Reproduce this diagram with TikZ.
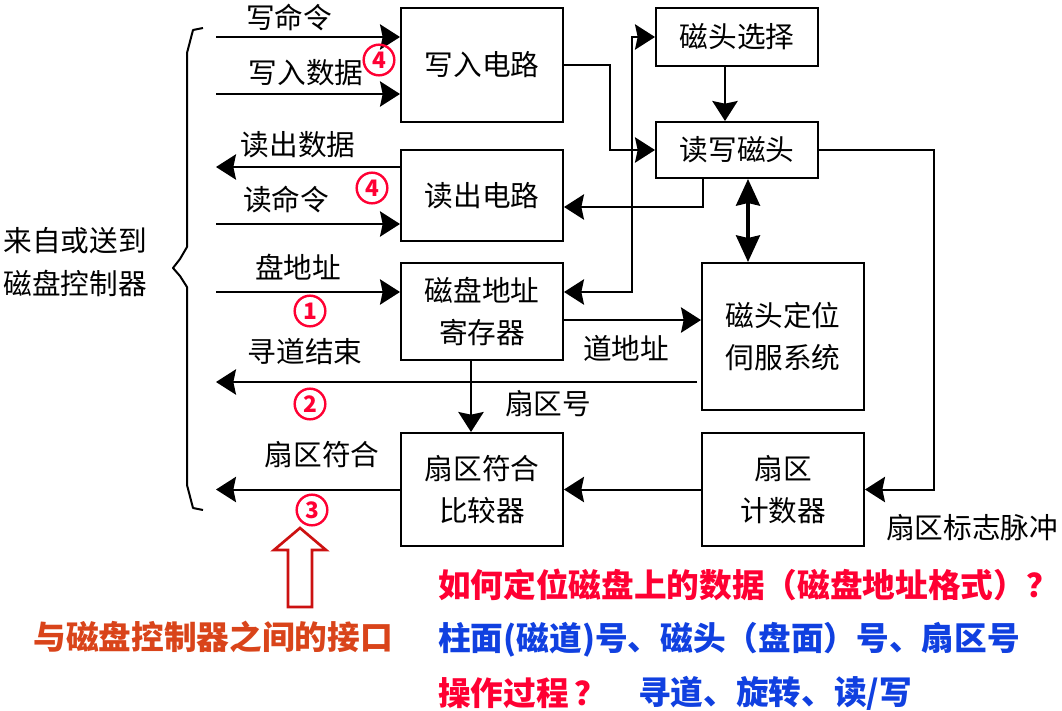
\documentclass[tikz,border=0pt]{standalone}
\usepackage{fontspec}
\usepackage{tikz}
\usetikzlibrary{arrows.meta,positioning}
\usepackage{xcolor}
\setmainfont{Noto Sans CJK SC}
\definecolor{qred}{HTML}{FF0033}
\definecolor{qblue}{HTML}{1040E0}
\definecolor{qorange}{HTML}{D9441A}
\definecolor{hollowred}{HTML}{CC1111}

\tikzset{
  blk/.style={draw, line width=1.5pt, minimum width=121.5pt, align=center, inner sep=0pt, font=\fontsize{21.5}{32}\selectfont},
  lbl/.style={inner sep=0pt, font=\fontsize{21.5}{32}\selectfont},
  arr/.style={line width=1.5pt, ->},
  numc/.style={circle, draw=qred, line width=1.8pt, text=qred, minimum size=23pt, inner sep=0pt, font=\fontsize{17}{17}\selectfont\bfseries},
  note/.style={anchor=west, inner sep=0pt, font=\fontsize{24.5}{28}\selectfont\bfseries},
}

\begin{document}
\begin{tikzpicture}[x=0.75pt, y=-0.75pt, >={Stealth[length=15pt,width=19pt,inset=2pt]}]
            \useasboundingbox (0,0) rectangle (1062,710);

            \node[blk, minimum height=85.5pt] (wr) at (482,65) {写入电路};
            \node[blk, minimum height=68.25pt] (rd) at (482,195.5) {读出电路};
            \node[blk, minimum height=43.5pt] (hsel) at (737,37) {磁头选择};
            \node[blk, minimum height=42pt] (rwh) at (737,150) {读写磁头};
            \node[blk, minimum height=72.75pt] (areg) at (482,311.5) {磁盘地址\\寄存器};
            \node[blk, minimum height=110.25pt] (servo) at (783,336.5) {磁头定位\\伺服系统};
            \node[blk, minimum height=84.75pt] (cmp) at (482,489.5) {扇区符合\\比较器};
            \node[blk, minimum height=84.75pt] (cnt) at (783,489.5) {扇区\\计数器};

            \coordinate (inwc) at (216,37);
            \coordinate (inwd) at (216,94);
            \coordinate (outrd) at (216,167);
            \coordinate (inrc) at (216,224);
            \coordinate (inad) at (216,292);
            \coordinate (outsk) at (216,382);
            \coordinate (outsc) at (216,489.5);
            \coordinate (sel) at (632,292);
            \coordinate (rdin) at (703,207);
            \coordinate (pulse) at (934,489.5);

            % interface side
            \draw[arr] (inwc) -- (inwc -| wr.west);
            \draw[arr] (inwd) -- (inwd -| wr.west);
            \draw[arr] (outrd -| rd.west) -- (outrd);
            \draw[arr] (inrc) -- (inrc -| rd.west);
            \draw[arr] (inad) -- (inad -| areg.west);
            \draw[arr] ([xshift=-3pt]outsk -| servo.west) -- (outsk);
            \draw[arr] (cmp.west) -- (outsc);

            % drive side
            \draw[arr] ([xshift=-8.25pt]areg.south) -- ([xshift=-8.25pt]cmp.north);
            \draw[arr] ([yshift=-6.4pt]areg.east) -- ([yshift=-6.4pt]areg.east -| servo.west);
            \draw[arr] (cnt) -- (cmp);
            \draw[arr] (rwh.east) -| (pulse) -- (cnt.east);
            \draw[line width=2.5pt, {Stealth[length=20pt,width=18pt,inset=2pt]}-{Stealth[length=20pt,width=18pt,inset=2pt]}] ([xshift=8.25pt]rwh.south) -- ([xshift=8.25pt]rwh.south |- servo.north);
            \draw[arr] ([xshift=-9pt]hsel.south) -- ([xshift=-9pt]rwh.north);
            \draw[arr] (wr.east) -- ++(46,0) |- (rwh.west);
            \draw[arr] (rdin |- rwh.south) -- (rdin) -- (rdin -| rd.east);
            \draw[line width=1.5pt, <->] (sel -| areg.east) -- (sel) |- (hsel.west);

            \draw[line width=1.5pt, line join=round] (203,28) -- (193,30) -- (187,53) -- (187,247) -- (180,259) -- (173,268) -- (180,276) -- (187,287) -- (187,485) -- (193,508) -- (203,510);

            \node[lbl] (lwc) at (289,18) {写命令};
            \node[lbl] (lwd) at (306,73) {写入数据};
            \node[lbl] (lrd) at (298,145) {读出数据};
            \node[lbl] (lrc) at (286,200) {读命令};
            \node[lbl] (lad) at (298,267) {盘地址};
            \node[lbl] (lsk) at (305,352) {寻道结束};
            \node[lbl] (lsc) at (322,455) {扇区符合};
            \node[lbl] (lsn) at (548,404) {扇区号};
            \node[lbl] (ltr) at (626,348) {道地址};
            \node[lbl] (lpu) at (972,528) {扇区标志脉冲};
            \node[lbl, align=center] (lctl) at (75,262) {来自或送到\\磁盘控制器};

            \node[numc] (n4a) at (379,60) {4};
            \node[numc] (n4b) at (372,188) {4};
            \node[numc] (n1) at (310,311) {1};
            \node[numc] (n2) at (310,404) {2};
            \node[numc] (n3) at (312,510) {3};

            \draw[hollowred, line width=2pt, line join=miter] (288,607) -- (288,550) -- (274,550) -- (300,528) -- (326,550) -- (312,550) -- (312,607) -- cycle;

            \node[note, anchor=center, text=qorange] (iface) at (213,637) {与磁盘控制器之间的接口};
            \node[note, text=qred] (q1) at (438,585) {如何定位磁盘上的数据（磁盘地址格式）？};
            \node[note, text=qblue] (a1) at (438,640) {柱面(磁道)号、磁头（盘面）号、扇区号};
            \node[note, text=qred] (q2) at (438,693) {操作过程\,？};
            \node[note, text=qblue] (a2) at (638,693) {寻道、旋转、读/写};
        \end{tikzpicture}
\end{document}
